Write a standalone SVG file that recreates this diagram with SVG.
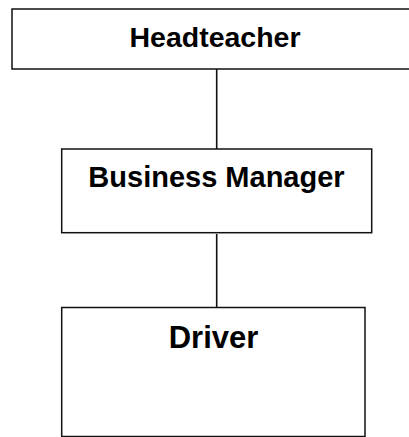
<svg xmlns="http://www.w3.org/2000/svg" width="409" height="437" viewBox="0 0 409 437">
<style>
.box{fill:#fff;stroke:#111;stroke-width:1.5}
.lbl{font-family:"Liberation Sans",Arial,sans-serif;font-weight:bold;fill:#000;text-anchor:middle}
.conn{stroke:#111;stroke-width:1.6;fill:none}
</style>
<rect width="409" height="437" fill="#fff"/>
<g id="connectors">
<line class="conn" x1="216.7" y1="69" x2="216.7" y2="149"/>
<line class="conn" x1="216.7" y1="234" x2="216.7" y2="307.5"/>
</g>
<g id="headteacher">
<rect class="box" x="12" y="9" width="410" height="60"/>
<text class="lbl" x="215" y="47" font-size="28.5">Headteacher</text>
</g>
<g id="business-manager">
<rect class="box" x="61.7" y="149" width="310" height="83.7"/>
<text class="lbl" x="216.5" y="186.5" font-size="29">Business Manager</text>
</g>
<g id="driver">
<rect class="box" x="61.7" y="307.5" width="303.3" height="129"/>
<text class="lbl" x="213.5" y="347.5" font-size="31">Driver</text>
</g>
</svg>
